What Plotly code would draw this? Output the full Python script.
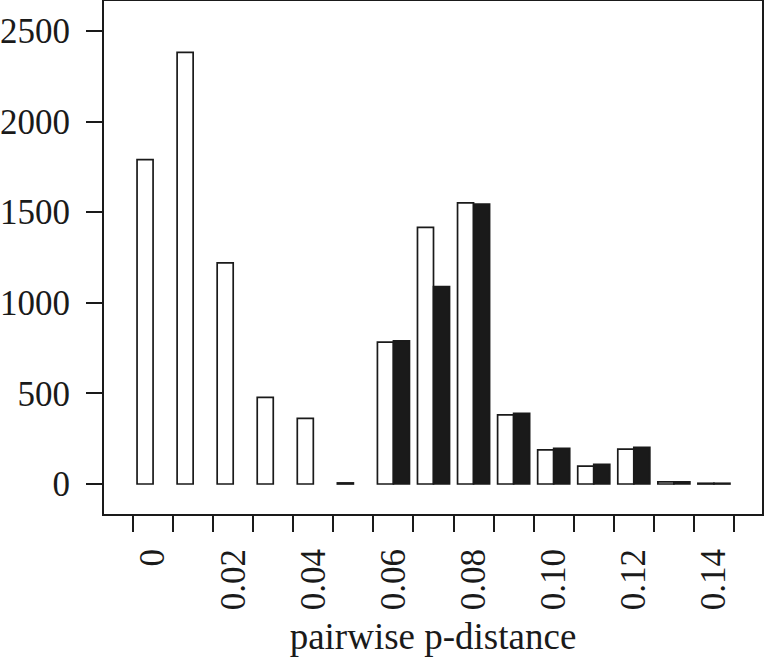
import plotly.graph_objects as go

# bin centres (pairwise p-distance)
bins = [0.00, 0.01, 0.02, 0.03, 0.04, 0.05, 0.06, 0.07, 0.08, 0.09, 0.10, 0.11, 0.12, 0.13, 0.14]
# white bars
within = [1790, 2382, 1220, 478, 362, 6, 783, 1417, 1552, 381, 188, 99, 193, 12, 4]
# black bars
between = [None, None, None, None, None, None, 790, 1089, 1545, 390, 197, 109, 202, 12, 4]

tick_vals = [0.00, 0.02, 0.04, 0.06, 0.08, 0.10, 0.12, 0.14]
tick_text = ["0", "0.02", "0.04", "0.06", "0.08", "0.10", "0.12", "0.14"]
y_ticks = [0, 500, 1000, 1500, 2000, 2500]

bin_w = 0.01

fig = go.Figure()
fig.add_trace(go.Bar(x=bins, y=within, marker=dict(color="white", line=dict(color="#1a1a1a", width=1.7)),
                     showlegend=False, hoverinfo="skip"))
fig.add_trace(go.Bar(x=bins, y=between, marker=dict(color="#1a1a1a", line=dict(color="#1a1a1a", width=1.7)),
                     showlegend=False, hoverinfo="skip"))

font = dict(family="Liberation Serif, Times New Roman, serif", size=35, color="#1a1a1a")
title_font = dict(family="Liberation Serif, Times New Roman, serif", size=37, color="#1a1a1a")

fig.update_layout(
    width=764, height=661,
    margin=dict(l=104, r=2, t=1, b=147),
    paper_bgcolor="white", plot_bgcolor="white",
    barmode="group", bargap=0.2, bargroupgap=0,
    font=font,
    xaxis=dict(
        automargin=False,
        range=[bins[0] - bin_w / 2 - 0.00725, bins[-1] + bin_w / 2 + 0.007],
        tickmode="array", tickvals=tick_vals, ticktext=tick_text,
        tickangle=-90, ticks="outside", ticklen=16, tickcolor="rgba(0,0,0,0)", tickwidth=2,
        ticklabelstandoff=3,
        minor=dict(tickmode="linear", tick0=bins[0] - bin_w / 2, dtick=bin_w,
                   ticks="outside", ticklen=16, tickwidth=2, tickcolor="#1a1a1a", showgrid=False),
        showline=True, mirror=True, linecolor="#1a1a1a", linewidth=2,
        showgrid=False, zeroline=False,
        title=dict(text="pairwise p-distance", standoff=14, font=title_font),
    ),
    yaxis=dict(
        automargin=False,
        range=[-165.6, 2666],
        tickmode="array", tickvals=y_ticks,
        ticks="outside", ticklen=16, tickwidth=2, tickcolor="#1a1a1a",
        ticklabelstandoff=9,
        showline=True, mirror=True, linecolor="#1a1a1a", linewidth=2,
        showgrid=False, zeroline=False,
    ),
)

fig.write_html(
    "out.html",
    config={"displayModeBar": False, "staticPlot": True},
    post_script="document.body.style.margin='0';document.body.style.overflow='hidden';",
)
